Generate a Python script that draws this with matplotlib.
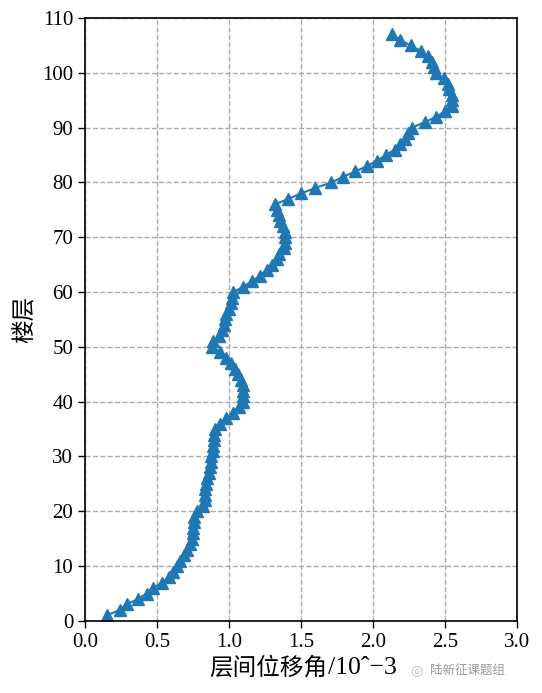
import matplotlib
matplotlib.use("Agg")
import matplotlib.pyplot as plt
import numpy as np

floors = list(range(1, 108))
drift = [
    0.15, 0.24, 0.29, 0.365, 0.43, 0.47, 0.535, 0.58, 0.61, 0.64,   # 1-10
    0.66, 0.686, 0.71, 0.73, 0.744, 0.75, 0.75, 0.756, 0.756, 0.78,  # 11-20
    0.82, 0.83, 0.83, 0.83, 0.837, 0.844, 0.86, 0.867, 0.872, 0.877, # 21-30
    0.885, 0.89, 0.895, 0.895, 0.90, 0.94, 0.98, 1.03, 1.07, 1.095,  # 31-40
    1.10, 1.10, 1.095, 1.08, 1.065, 1.04, 1.01, 0.98, 0.94, 0.88,    # 41-50
    0.89, 0.93, 0.95, 0.965, 0.97, 0.98, 1.00, 1.01, 1.02, 1.03,     # 51-60
    1.10, 1.16, 1.215, 1.26, 1.30, 1.33, 1.35, 1.38, 1.39, 1.39,     # 61-70
    1.39, 1.377, 1.354, 1.35, 1.33, 1.32, 1.41, 1.50, 1.60, 1.71,    # 71-80
    1.79, 1.875, 1.96, 2.03, 2.09, 2.15, 2.19, 2.22, 2.24, 2.27,     # 81-90
    2.36, 2.44, 2.50, 2.55, 2.55, 2.55, 2.53, 2.52, 2.49, 2.44,      # 91-100
    2.42, 2.41, 2.38, 2.33, 2.26, 2.19, 2.13,                        # 101-107
]

xticks = [0.0, 0.5, 1.0, 1.5, 2.0, 2.5, 3.0]
yticks = list(range(0, 111, 10))
xlabel_cjk = '层间位移角'
xlabel_unit = '/10ˆ−3'
ylabel = '楼层'

serif = ['Liberation Serif', 'Noto Sans CJK SC']
plt.rcParams['font.family'] = serif

W, H = 542, 693
fig = plt.figure(figsize=(W / 100, H / 100), dpi=100)
ax = fig.add_axes([0.157, 0.104, 0.797, 0.870])

ax.plot(drift, floors, color='#1f77b4', marker='^', markersize=8, linewidth=1.5)

ax.set_xlim(0, 3)
ax.set_ylim(0, 110)
ax.set_xticks(xticks)
ax.set_xticklabels([f"{t:.1f}" for t in xticks])
ax.set_yticks(yticks)
ax.tick_params(labelsize=15, direction='out', length=5, width=1)
ax.grid(True, linestyle='--', color='#aaaaaa', linewidth=1)
for s in ax.spines.values():
    s.set_linewidth(1.2)

ax.set_ylabel(ylabel, fontsize=17, family=serif, labelpad=4)

# x label: CJK part and unit part
fig.text(327 / W, 1 - 668 / H, xlabel_cjk, fontsize=17,
         family=['Noto Sans CJK SC', 'DejaVu Sans'], ha='right', va='center')
fig.text(328 / W, 1 - 668 / H, xlabel_unit, fontsize=18.5,
         family=['Liberation Serif', 'DejaVu Serif'], ha='left', va='center')

fig.text(430 / W, 1 - 670 / H, '陆新征课题组', fontsize=9, color='#999999',
         family=['Noto Sans CJK SC', 'DejaVu Sans'], ha='left', va='center')
fig.text(410 / W, 1 - 670 / H, '◎', fontsize=10, color='#bbbbbb',
         family=['DejaVu Sans'], ha='left', va='center')

fig.savefig('out.png', dpi=100)
